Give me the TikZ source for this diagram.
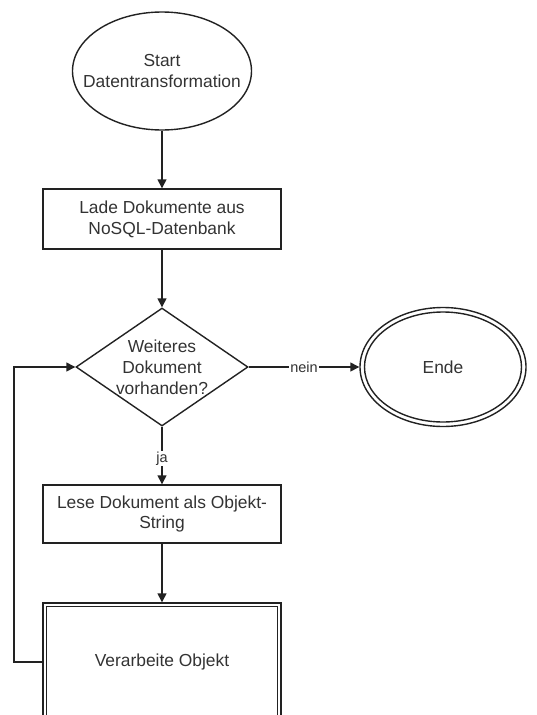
\documentclass[tikz,border=0pt]{standalone}
\usepackage{fontspec}
\setmainfont{Liberation Sans}
\usetikzlibrary{shapes.geometric,arrows.meta}
\definecolor{ink}{HTML}{222222}
\definecolor{txt}{HTML}{333333}
\begin{document}
\begin{tikzpicture}[x=1pt,y=-1pt,
  every node/.style={font=\fontsize{17.4}{20.9}\selectfont, text=txt, align=center, inner sep=0pt},
  every label/.style={font=\fontsize{17.4}{20.9}\selectfont, text=txt, align=center, inner sep=0pt},
  shp/.style={draw=ink, line width=1.4pt},
  flow/.style={draw=ink, line width=1.4pt, -{Triangle[length=9pt,width=9pt]}},
  lbl/.style={fill=white, inner sep=1pt, font=\fontsize{14.5}{17}\selectfont}]
\useasboundingbox (0,0) rectangle (536,715);
\begin{scope}
\clip (0,0) rectangle (536,715);
% start
\node[shp, ellipse, minimum width=179pt, minimum height=118pt,
  label=center:{Start\\Datentransformation}] (start) at (162,71) {};
% load documents
\node[shp, rectangle, minimum width=238pt, minimum height=60pt] (load) at (162,219)
  {Lade Dokumente aus\\NoSQL-Datenbank};
% decision
\node[shp, diamond, minimum width=172pt, minimum height=118pt,
  label=center:{Weiteres\\Dokument\\vorhanden?}] (dec) at (162,367) {};
% end state
\node[shp, ellipse, minimum width=166pt, minimum height=119pt] (ende) at (443,367) {Ende};
\node[draw=ink, line width=1.4pt, ellipse, minimum width=157pt, minimum height=110pt] (endein) at (443,367) {};
% read document
\node[shp, rectangle, minimum width=238pt, minimum height=58pt] (read) at (162,514)
  {Lese Dokument als Objekt-\\String};
% process object
\node[shp, rectangle, minimum width=238pt, minimum height=118pt] (proc) at (162,662)
  {Verarbeite Objekt};
\node[draw=ink, line width=1.4pt, rectangle, minimum width=231pt, minimum height=111pt] (procin) at (162,662) {};
% connectors
\draw[flow] (start) -- (load);
\draw[flow] (load) -- (dec);
\draw[flow] (dec) -- node[lbl, pos=0.5] {nein} (ende);
\draw[flow] (dec) -- node[lbl, pos=0.55] {ja} (read);
\draw[flow] (read) -- (proc);
\coordinate (loopd) at (14,662);
\coordinate (loopu) at (14,367);
\draw[flow] (proc.west) -- (loopd) -- (loopu) -- (dec.west);
\end{scope}
\end{tikzpicture}
\end{document}
